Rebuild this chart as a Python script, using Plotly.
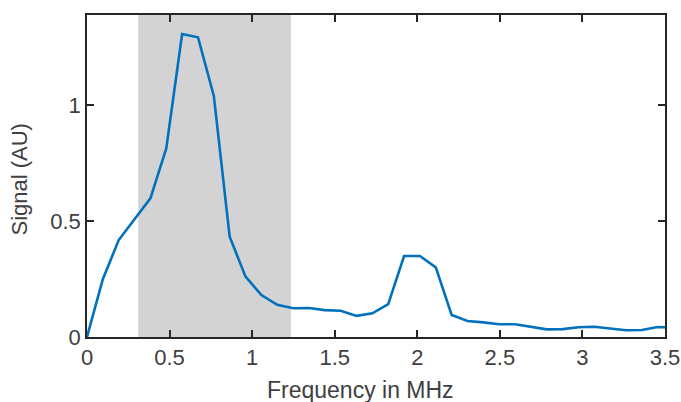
import plotly.graph_objects as go

freq_mhz = [0.000, 0.096, 0.192, 0.288, 0.384, 0.480, 0.576, 0.672, 0.768, 0.864,
            0.960, 1.056, 1.152, 1.248, 1.344, 1.440, 1.536, 1.632, 1.728, 1.824,
            1.920, 2.016, 2.112, 2.208, 2.304, 2.400, 2.496, 2.592, 2.688, 2.784,
            2.880, 2.976, 3.072, 3.168, 3.264, 3.360, 3.456, 3.552]
signal_au = [0.000, 0.249, 0.418, 0.510, 0.598, 0.813, 1.306, 1.292, 1.039, 0.432,
             0.260, 0.181, 0.139, 0.124, 0.125, 0.116, 0.113, 0.091, 0.102, 0.142,
             0.349, 0.349, 0.300, 0.095, 0.069, 0.063, 0.055, 0.055, 0.044, 0.033,
             0.034, 0.042, 0.044, 0.036, 0.029, 0.030, 0.043, 0.041]
band_start = 0.31
band_end = 1.235
x_ticks = [0, 0.5, 1, 1.5, 2, 2.5, 3, 3.5]
x_tick_labels = ["0", "0.5", "1", "1.5", "2", "2.5", "3", "3.5"]
y_ticks = [0, 0.5, 1]
y_tick_labels = ["0", "0.5", "1"]
x_title = "Frequency in MHz"
y_title = "Signal (AU)"

axis_color = "#262626"
text_color = "#404040"
font_family = "Liberation Sans, Arial, sans-serif"

fig = go.Figure()
fig.add_trace(go.Scatter(x=freq_mhz, y=signal_au, mode="lines",
                         line=dict(color="#0072BD", width=2.6), showlegend=False))

fig.add_shape(type="rect", xref="x", yref="paper", x0=band_start, x1=band_end,
              y0=0, y1=1, fillcolor="#d3d3d3", line=dict(width=0), layer="below")

axis_common = dict(showgrid=False, zeroline=False, showline=True, linecolor=axis_color,
                   linewidth=1.5, mirror="ticks", ticks="inside", ticklen=7,
                   tickwidth=1.5, tickcolor=axis_color, automargin=False,
                   tickfont=dict(family=font_family, size=22, color=text_color))

fig.update_xaxes(range=[0, 3.5], tickvals=x_ticks, ticktext=x_tick_labels, **axis_common)
fig.update_yaxes(range=[0, 1.388], tickvals=y_ticks, ticktext=y_tick_labels, **axis_common)

fig.add_annotation(text=x_title, xref="paper", yref="paper", x=0.474, y=0,
                   yshift=-53, xanchor="center", yanchor="middle", showarrow=False,
                   font=dict(family=font_family, size=23, color=text_color))
fig.add_annotation(text=y_title, xref="paper", yref="paper", x=0, y=0.489,
                   xshift=-67, xanchor="center", yanchor="middle", showarrow=False,
                   textangle=-90,
                   font=dict(family=font_family, size=22, color=text_color))

fig.update_layout(width=681, height=402, margin=dict(l=87, r=16, t=15, b=65),
                  plot_bgcolor="white", paper_bgcolor="white")

fig.write_html("out.html", config={"displayModeBar": False},
               post_script="document.body.style.margin='0';document.body.style.overflow='hidden';")
